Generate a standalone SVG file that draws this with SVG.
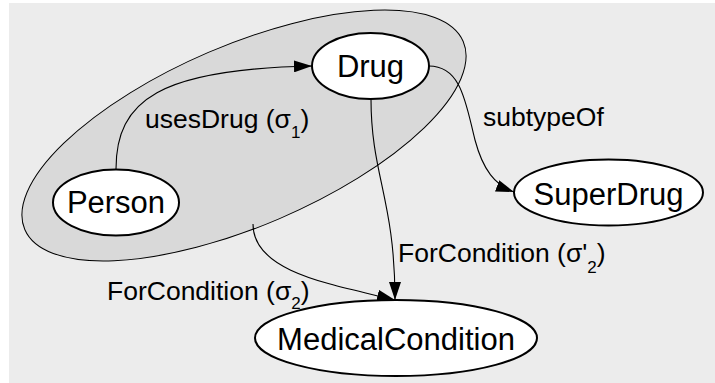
<svg xmlns="http://www.w3.org/2000/svg" width="715" height="383" viewBox="0 0 715 383">
  <style>
    .node ellipse { fill: #ffffff; stroke: #000000; stroke-width: 2; }
    .node text { font-family: "Liberation Sans", Arial, sans-serif; font-size: 31px; fill: #000000; text-anchor: middle; }
    .edge { fill: none; stroke: #000000; stroke-width: 1.1; }
    .label { font-family: "Liberation Sans", Arial, sans-serif; font-size: 26.5px; fill: #000000; }
    .sub { font-size: 17px; }
  </style>
  <defs>
    <marker id="arrow" viewBox="0 0 18 12" refX="18" refY="6" markerWidth="18" markerHeight="12" markerUnits="userSpaceOnUse" orient="auto">
      <path d="M0,0 L18,6 L0,12 Z" fill="#000000"/>
    </marker>
  </defs>

  <!-- canvas -->
  <rect x="0" y="0" width="715" height="383" fill="#ffffff"/>
  <rect x="9" y="3" width="706" height="380" fill="#ececec"/>

  <!-- grouping region around Person and Drug -->
  <g id="cluster">
    <ellipse cx="244" cy="135.5" rx="238.5" ry="90.4" transform="rotate(-23.2 244 135.5)" fill="#d9d9d9" stroke="#000000" stroke-width="1"/>
  </g>

  <!-- connectors -->
  <g id="connectors">
    <path class="edge" d="M116,169 C116,100 160,69 312,66" marker-end="url(#arrow)"/>
    <path class="edge" d="M429,66 C462,66 466,105 475,140 C483,170 495,185 514,192" marker-end="url(#arrow)"/>
    <path class="edge" d="M371,99 C371,175 395,200 395,300" marker-end="url(#arrow)"/>
    <path class="edge" d="M253,224 C253,272 330,284 395,300" marker-end="url(#arrow)"/>
  </g>

  <!-- connector labels -->
  <g id="labels">
    <text class="label" x="145" y="128">usesDrug (σ<tspan class="sub" dy="10">1</tspan><tspan dy="-10">)</tspan></text>
    <text class="label" x="483" y="126">subtypeOf</text>
    <text class="label" x="398" y="262">ForCondition (σ'<tspan class="sub" dy="11">2</tspan><tspan dy="-11">)</tspan></text>
    <text class="label" x="107" y="300">ForCondition (σ<tspan class="sub" dy="9">2</tspan><tspan dy="-9">)</tspan></text>
  </g>

  <!-- nodes -->
  <g id="person" class="node">
    <ellipse cx="116" cy="202.5" rx="63" ry="33"/>
    <text x="116" y="213">Person</text>
  </g>
  <g id="drug" class="node">
    <ellipse cx="370.5" cy="66" rx="58.5" ry="33"/>
    <text x="370.5" y="77">Drug</text>
  </g>
  <g id="superdrug" class="node">
    <ellipse cx="608.5" cy="192.5" rx="94.5" ry="33"/>
    <text x="608.5" y="205">SuperDrug</text>
  </g>
  <g id="medicalcondition" class="node">
    <ellipse cx="396" cy="338" rx="141" ry="38"/>
    <text x="396" y="350">MedicalCondition</text>
  </g>
</svg>
